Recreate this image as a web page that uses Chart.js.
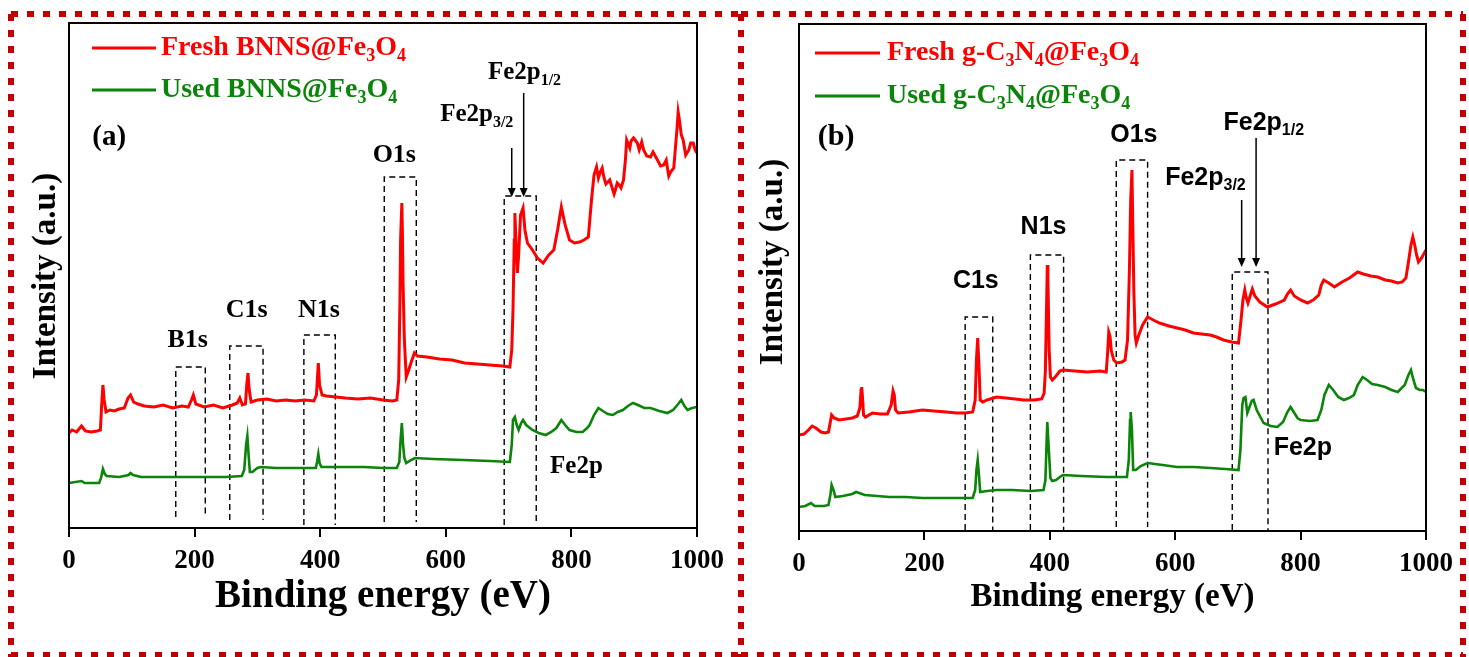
<!DOCTYPE html>
<html>
<head>
<meta charset="utf-8">
<title>XPS survey spectra</title>
<script src="https://cdn.jsdelivr.net/npm/chart.js@4.4.0/dist/chart.umd.min.js"></script>
<style>
  html, body { margin: 0; padding: 0; background: #fff; }
  body { width: 1469px; height: 657px; position: relative; overflow: hidden; }
  .panel { position: absolute; top: 0; height: 657px; }
  #panelA { left: 0; width: 750px; }
  #panelB { left: 741px; width: 728px; }
</style>
</head>
<body>
<div class="panel" id="panelA"><canvas id="chartA"></canvas></div>
<div class="panel" id="panelB"><canvas id="chartB"></canvas></div>
<script>
// ---- data (binding energy in eV, intensity in arbitrary units) ----
const xTicks = [0, 200, 400, 600, 800, 1000];

// (a) BNNS@Fe3O4
const energyA_fresh = [0,5,12,20,26,35,45,50,52,54,56,59,65,72,80,88,94,98,103,110,120,135,150,165,180,190,195,198,202,215,230,245,260,268,272,276,281,283,285,287,290,300,315,330,345,360,375,390,394,397,399,403,410,425,440,460,480,500,515,522,525,527,528,530,531,532,534,537,541,545,550,555,570,590,610,630,650,670,690,702,705,707,709,710,712,714,716,719,723,726,730,738,746,755,764,772,778,784,790,797,805,813,820,827,832,836,840,843,846,849,852,855,858,861,865,868,870,873,876,879,883,886,888,893,895,899,905,908,912,915,920,926,930,937,942,947,951,955,958,963,968,970,972,975,978,982,987,990,994,997,1000];
const intensityA_fresh = [95,98,96,102,97,96,97,98,123,143,128,116,118,117,119,120,130,133,126,124,122,121,123,120,122,121,128,133,124,121,123,120,123,125,130,123,124,143,155,138,126,128,129,127,128,127,128,127,133,165,143,133,132,131,130,129,130,128,127,128,148,228,288,325,293,243,188,151,158,166,175,172,171,169,168,165,164,163,162,161,178,218,288,315,283,255,273,313,320,298,285,278,270,265,273,278,298,321,303,288,285,286,288,291,328,353,361,350,356,360,350,344,346,348,340,334,338,345,343,340,348,368,388,380,387,390,385,378,386,378,372,371,376,368,362,363,368,352,356,360,398,416,408,393,388,373,378,385,385,378,375];

const energyA_used = [0,20,25,48,51,54,57,60,80,95,98,102,115,150,200,250,275,279,282,284,286,288,292,300,305,330,360,393,395,397,399,402,430,470,500,522,526,528,530,532,534,537,545,551,580,628,670,702,705,707,710,713,716,720,723,728,738,748,759,768,776,784,790,797,808,818,825,829,836,843,850,858,866,874,882,890,898,906,916,926,940,953,962,970,975,980,985,992,1000];
const intensityA_used = [45,47,45,45,50,59,54,52,51,53,55,53,51,51,51,51,52,58,83,92,73,56,56,60,61,60,60,60,66,74,65,61,61,61,60,60,66,88,105,83,70,65,68,70,69,68,67,66,83,108,111,103,98,105,108,103,98,95,93,96,100,108,103,98,96,96,100,103,113,120,117,114,113,116,118,122,125,123,120,120,117,115,118,124,128,122,118,120,121];

// (b) g-C3N4@Fe3O4
const energyB_fresh = [0,8,15,21,27,35,42,47,50,52,56,64,75,85,93,97,99,100,101,103,106,117,130,141,147,150,152,154,158,175,197,215,235,251,265,277,281,283,285,287,289,293,300,315,330,345,358,375,387,391,393,395,396,397,399,401,404,410,416,421,440,460,480,490,492,494,496,498,502,507,515,520,524,527,529,531,532,534,536,538,542,548,556,565,575,590,603,616,629,642,656,666,677,690,701,705,708,711,713,716,720,723,727,735,747,760,774,779,784,790,800,811,820,829,833,837,845,854,866,878,891,900,912,923,935,945,955,962,968,972,976,979,982,985,988,993,1000];
const intensityB_fresh = [96,97,101,105,103,99,98,99,109,116,113,111,112,113,115,123,141,144,136,116,114,118,117,117,126,140,136,121,118,119,121,120,119,118,118,119,131,171,193,166,131,129,131,134,133,132,131,131,132,138,161,231,266,251,181,154,151,155,160,161,160,159,160,159,176,199,195,181,171,168,169,171,191,261,331,361,321,241,196,188,196,206,214,211,208,205,203,201,198,197,196,194,191,189,188,211,231,241,234,228,236,242,235,229,224,227,231,237,241,235,231,228,231,236,246,251,248,244,249,253,259,257,255,254,251,250,248,249,253,269,286,294,286,276,269,273,281];

const energyB_used = [0,10,19,25,40,47,50,52,55,58,70,85,91,96,105,125,144,170,197,230,251,277,281,283,285,287,289,300,315,340,370,390,393,395,396,398,401,404,410,416,421,450,491,500,515,523,526,528,529,531,533,537,545,556,580,603,630,656,680,701,704,707,709,712,715,718,722,725,730,741,752,763,772,779,784,789,795,800,815,827,833,838,845,852,860,869,877,885,891,899,906,914,923,935,945,955,966,972,976,980,984,990,995,1000];
const intensityB_used = [24,25,28,25,25,26,36,46,41,34,35,37,39,38,36,35,34,34,33,33,33,33,41,61,71,56,39,40,41,41,40,41,51,91,109,86,53,50,51,54,56,55,54,54,54,54,71,111,119,101,61,61,65,68,66,64,64,63,62,61,81,126,133,134,118,123,130,131,121,108,105,104,109,119,124,119,113,111,110,111,121,136,146,141,134,131,133,136,146,154,151,147,146,144,141,139,146,156,161,151,143,141,141,139];

// ---- helpers ----
const SERIF = '"Liberation Serif", "Times New Roman", serif';
const SANS = '"Liberation Sans", Arial, sans-serif';
const RED = '#ff0000';
const GREEN = '#0a850a';
const BORDER_RED = '#c00000';

const toPoints = (xs, ys) => xs.map((x, i) => ({ x: x, y: ys[i] }));

// "Fe2p_{3/2}" -> [["Fe2p", false], ["3/2", true]]
function parseRich(str) {
  const parts = [];
  const re = /_\{([^}]*)\}/g;
  let last = 0, m;
  while ((m = re.exec(str))) {
    if (m.index > last) parts.push([str.slice(last, m.index), false]);
    parts.push([m[1], true]);
    last = re.lastIndex;
  }
  if (last < str.length) parts.push([str.slice(last), false]);
  return parts;
}

function drawRich(ctx, str, x, y, size, family, color, align) {
  const parts = parseRich(str);
  const subSize = Math.round(size * 0.65);
  ctx.save();
  ctx.fillStyle = color;
  ctx.textBaseline = 'middle';
  ctx.textAlign = 'left';
  let total = 0;
  parts.forEach(([t, sub]) => {
    ctx.font = 'bold ' + (sub ? subSize : size) + 'px ' + family;
    total += ctx.measureText(t).width;
  });
  let cx = align === 'center' ? x - total / 2 : x;
  parts.forEach(([t, sub]) => {
    ctx.font = 'bold ' + (sub ? subSize : size) + 'px ' + family;
    ctx.fillText(t, cx, sub ? y + size * 0.3 : y);
    cx += ctx.measureText(t).width;
  });
  ctx.restore();
}

const decorPlugin = {
  id: 'decor',
  beforeDatasetsDraw(chart, args, opts) {
    const { ctx, scales: { x, y } } = chart;
    ctx.save();
    ctx.strokeStyle = '#000';
    ctx.lineWidth = 1.4;
    ctx.setLineDash([6, 4]);
    opts.boxes.forEach(b => {
      const x0 = x.getPixelForValue(b.from), x1 = x.getPixelForValue(b.to);
      const yt = y.getPixelForValue(b.top), yb = y.getPixelForValue(b.bottom);
      ctx.beginPath();
      ctx.moveTo(x0, yb); ctx.lineTo(x0, yt); ctx.lineTo(x1, yt); ctx.lineTo(x1, yb);
      ctx.stroke();
    });
    ctx.restore();
  },
  afterDraw(chart, args, opts) {
    const { ctx, chartArea: a, scales: { x, y } } = chart;
    ctx.save();

    // plot frame
    ctx.strokeStyle = '#000';
    ctx.lineWidth = 2;
    ctx.strokeRect(a.left, a.top, a.right - a.left, a.bottom - a.top);

    // red dashed panel border
    ctx.strokeStyle = BORDER_RED;
    ctx.lineWidth = 6;
    ctx.setLineDash([7, 9]);
    opts.border.forEach(seg => {
      ctx.beginPath();
      ctx.moveTo(seg[0], seg[1]);
      ctx.lineTo(seg[2], seg[3]);
      ctx.stroke();
    });
    ctx.setLineDash([]);

    // legend
    opts.legend.forEach(l => {
      ctx.strokeStyle = l.color;
      ctx.lineWidth = 3;
      ctx.beginPath();
      ctx.moveTo(a.left + l.x0, a.top + l.y);
      ctx.lineTo(a.left + l.x1, a.top + l.y);
      ctx.stroke();
      drawRich(ctx, l.text, a.left + l.tx, a.top + l.y, l.size, SERIF, l.color, 'left');
    });

    // arrows
    ctx.strokeStyle = '#000';
    ctx.fillStyle = '#000';
    ctx.lineWidth = 1.5;
    opts.arrows.forEach(ar => {
      const px = x.getPixelForValue(ar.at);
      const y0 = y.getPixelForValue(ar.from), y1 = y.getPixelForValue(ar.to);
      ctx.beginPath();
      ctx.moveTo(px, y0);
      ctx.lineTo(px, y1 - 6);
      ctx.stroke();
      ctx.beginPath();
      ctx.moveTo(px - 4, y1 - 9);
      ctx.lineTo(px + 4, y1 - 9);
      ctx.lineTo(px, y1);
      ctx.closePath();
      ctx.fill();
    });

    // peak labels
    opts.labels.forEach(lb => {
      drawRich(ctx, lb.text, x.getPixelForValue(lb.x), y.getPixelForValue(lb.y),
        lb.size, lb.sans ? SANS : SERIF, lb.color || '#000', lb.align || 'center');
    });

    // y-axis title
    ctx.translate(opts.yTitle.x, opts.yTitle.y);
    ctx.rotate(-Math.PI / 2);
    ctx.font = 'bold ' + opts.yTitle.size + 'px ' + SERIF;
    ctx.fillStyle = '#000';
    ctx.textAlign = 'center';
    ctx.textBaseline = 'middle';
    ctx.fillText('Intensity (a.u.)', 0, 0);
    ctx.restore();
  }
};

function buildChart(canvasId, cfg) {
  return new Chart(document.getElementById(canvasId), {
    type: 'line',
    data: {
      datasets: [
        {
          label: cfg.freshLabel,
          data: cfg.fresh,
          borderColor: RED,
          borderWidth: 3,
          pointRadius: 0,
          tension: 0
        },
        {
          label: cfg.usedLabel,
          data: cfg.used,
          borderColor: GREEN,
          borderWidth: 2.6,
          pointRadius: 0,
          tension: 0
        }
      ]
    },
    options: {
      responsive: true,
      maintainAspectRatio: false,
      animation: false,
      events: [],
      layout: { padding: cfg.padding },
      scales: {
        x: {
          type: 'linear',
          min: 0,
          max: 1000,
          afterBuildTicks: (axis) => { axis.ticks = xTicks.map(v => ({ value: v })); },
          afterFit: (axis) => { axis.height = cfg.axisHeight; },
          ticks: {
            color: '#000',
            padding: 8,
            font: { family: SERIF, weight: 'bold', size: 27 },
            callback: (v) => String(v)
          },
          grid: {
            drawOnChartArea: false,
            drawTicks: true,
            tickLength: 9,
            color: '#000',
            lineWidth: 2
          },
          border: { display: true, color: '#000', width: 2 },
          title: {
            display: true,
            text: 'Binding energy (eV)',
            color: '#000',
            font: { family: SERIF, weight: 'bold', size: cfg.titleSize },
            padding: { top: 0, bottom: cfg.titlePad }
          }
        },
        y: { display: false, min: 0, max: cfg.yMax }
      },
      plugins: {
        legend: { display: false },
        tooltip: { enabled: false },
        decor: cfg.decor
      }
    },
    plugins: [decorPlugin]
  });
}

buildChart('chartA', {
  freshLabel: 'Fresh BNNS@Fe3O4',
  usedLabel: 'Used BNNS@Fe3O4',
  fresh: toPoints(energyA_fresh, intensityA_fresh),
  used: toPoints(energyA_used, intensityA_used),
  yMax: 505,
  padding: { left: 69, right: 53, top: 23, bottom: 0 },
  axisHeight: 129,
  titleSize: 39,
  titlePad: 37,
  decor: {
    border: [[11, 14, 741, 14], [11, 14, 11, 657], [741, 14, 741, 657], [11, 655, 741, 655]],
    legend: [
      { text: 'Fresh BNNS@Fe_{3}O_{4}', color: RED, x0: 23, x1: 87, tx: 92, y: 25, size: 28 },
      { text: 'Used BNNS@Fe_{3}O_{4}', color: GREEN, x0: 23, x1: 87, tx: 92, y: 67, size: 28 }
    ],
    boxes: [
      { from: 170, to: 217, top: 161, bottom: 11 },
      { from: 256, to: 309, top: 182, bottom: 8 },
      { from: 374, to: 424, top: 193, bottom: 3 },
      { from: 502, to: 553, top: 351, bottom: 6 },
      { from: 693, to: 744, top: 332, bottom: 3 }
    ],
    arrows: [
      { at: 705, from: 380, to: 331 },
      { at: 724, from: 435, to: 331 }
    ],
    labels: [
      { text: '(a)', x: 37, y: 390, size: 29, align: 'left' },
      { text: 'B1s', x: 189, y: 188, size: 26 },
      { text: 'C1s', x: 283, y: 218, size: 26 },
      { text: 'N1s', x: 398, y: 218, size: 26 },
      { text: 'O1s', x: 518, y: 373, size: 26 },
      { text: 'Fe2p_{3/2}', x: 591, y: 413, size: 25, align: 'left' },
      { text: 'Fe2p_{1/2}', x: 667, y: 455, size: 25, align: 'left' },
      { text: 'Fe2p', x: 766, y: 61, size: 25, align: 'left' }
    ],
    yTitle: { x: 46, y: 276, size: 33 }
  }
});

buildChart('chartB', {
  freshLabel: 'Fresh g-C3N4@Fe3O4',
  usedLabel: 'Used g-C3N4@Fe3O4',
  fresh: toPoints(energyB_fresh, intensityB_fresh),
  used: toPoints(energyB_used, intensityB_used),
  yMax: 507,
  padding: { left: 58, right: 43, top: 24, bottom: 0 },
  axisHeight: 126,
  titleSize: 33,
  titlePad: 40,
  decor: {
    border: [[0, 14, 722, 14], [722, 14, 722, 657], [0, 655, 722, 655]],
    legend: [
      { text: 'Fresh g-C_{3}N_{4}@Fe_{3}O_{4}', color: RED, x0: 16, x1: 81, tx: 88, y: 29, size: 28 },
      { text: 'Used g-C_{3}N_{4}@Fe_{3}O_{4}', color: GREEN, x0: 16, x1: 81, tx: 88, y: 72, size: 28 }
    ],
    boxes: [
      { from: 265, to: 309, top: 214, bottom: 1 },
      { from: 369, to: 422, top: 276, bottom: 1 },
      { from: 506, to: 556, top: 371, bottom: 4 },
      { from: 691, to: 748, top: 259, bottom: 1 }
    ],
    arrows: [
      { at: 706, from: 331, to: 264 },
      { at: 729, from: 393, to: 264 }
    ],
    labels: [
      { text: '(b)', x: 30, y: 394, size: 30, align: 'left' },
      { text: 'C1s', x: 282, y: 250, size: 25, sans: true },
      { text: 'N1s', x: 390, y: 304, size: 25, sans: true },
      { text: 'O1s', x: 534, y: 396, size: 25, sans: true },
      { text: 'Fe2p_{3/2}', x: 584, y: 353, size: 25, sans: true, align: 'left' },
      { text: 'Fe2p_{1/2}', x: 677, y: 408, size: 25, sans: true, align: 'left' },
      { text: 'Fe2p', x: 757, y: 83, size: 25, sans: true, align: 'left' }
    ],
    yTitle: { x: 32, y: 262, size: 33 }
  }
});
</script>
</body>
</html>
